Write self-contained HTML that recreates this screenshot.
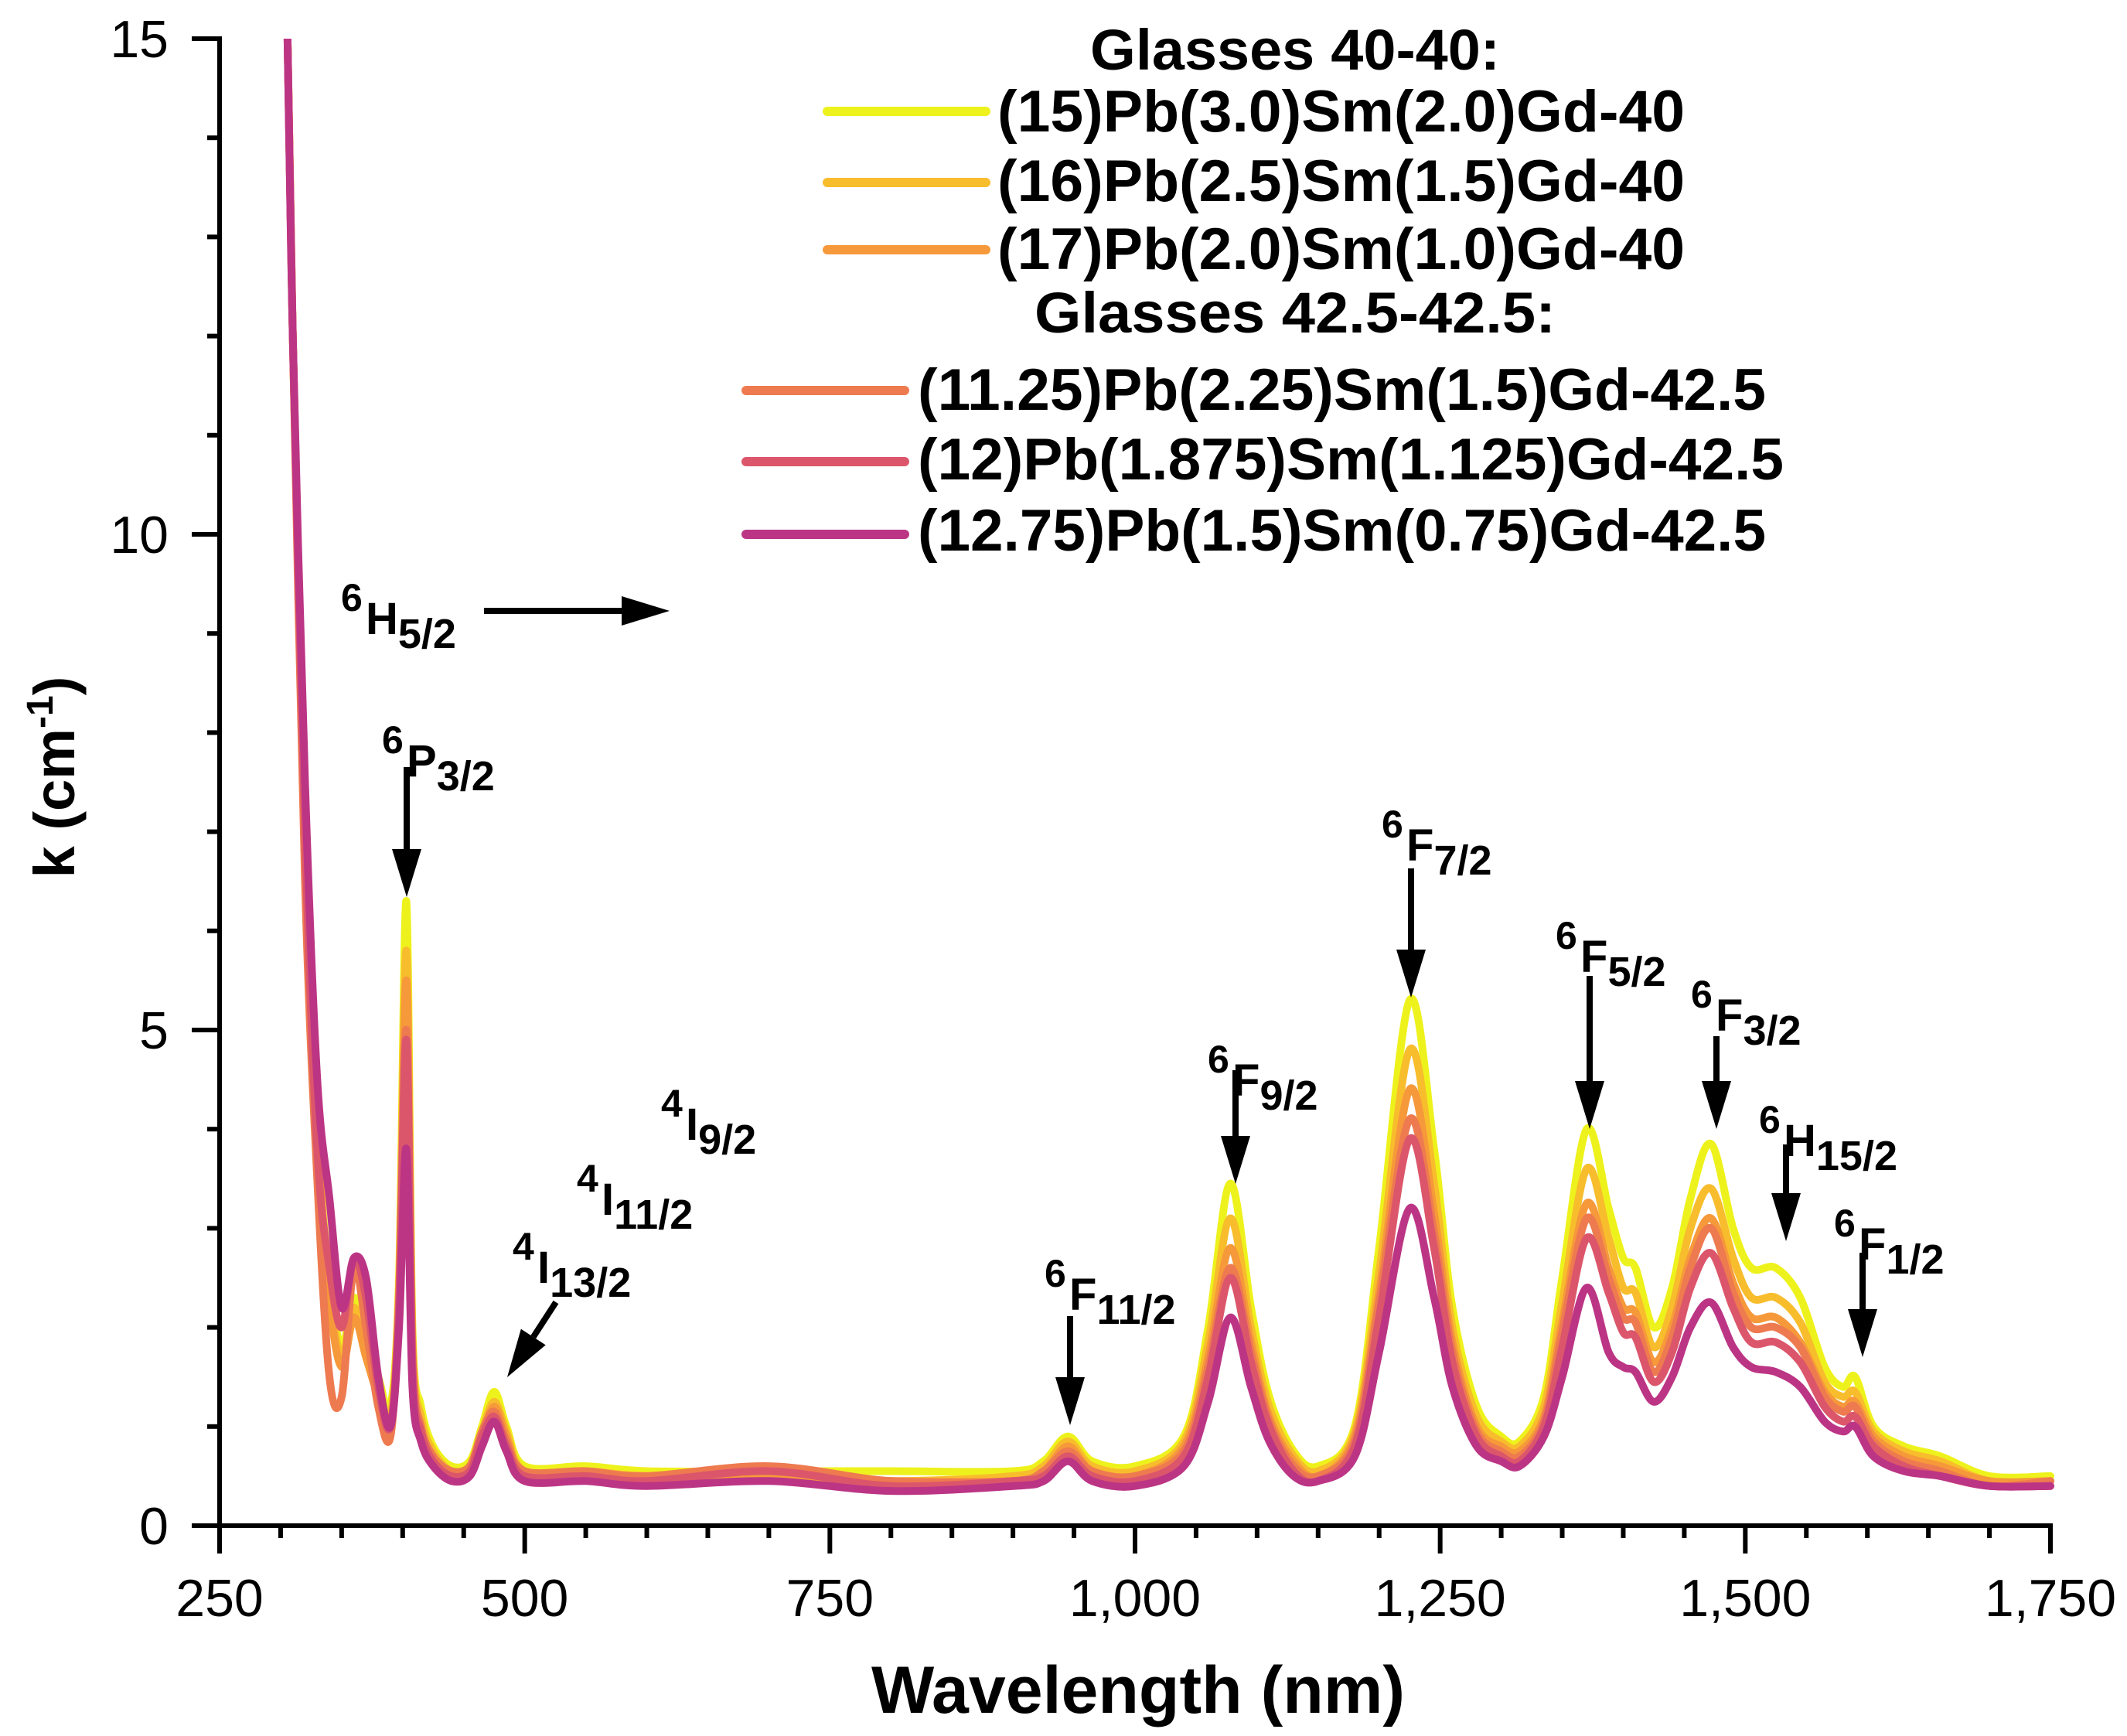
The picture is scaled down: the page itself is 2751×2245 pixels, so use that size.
<!DOCTYPE html>
<html><head><meta charset="utf-8"><style>
html,body{margin:0;padding:0;background:#fff}
svg{display:block}
text{font-family:"Liberation Sans",Arial,sans-serif}
</style></head><body>
<svg id="chart" width="2751" height="2245" viewBox="0 0 2751 2245" xmlns="http://www.w3.org/2000/svg">
<defs><clipPath id="plotclip"><rect x="284" y="50" width="2380" height="1923"/></clipPath></defs>
<g id="series" clip-path="url(#plotclip)"></g>
<g id="axes"></g>
<g id="legend"></g>
<g id="annot"></g>
</svg>
<script>
const wavelengths=[305,310,320,330,340,350,360,370,380,390,397,403,408,415,425,440,455,465,475,485,500,550,600,700,800,900,925,945,965,1000,1040,1060,1078,1095,1110,1130,1150,1180,1200,1225,1245,1260,1280,1300,1315,1335,1350,1370,1388,1400,1410,1425,1440,1455,1472,1490,1505,1525,1545,1565,1580,1590,1605,1630,1660,1700,1750];
const s15=[15.5,12,7,4,2.5,1.8,2.3,1.9,1.5,1.2,2.5,6.3,2.0,1.2,0.8,0.6,0.65,1.0,1.35,1.0,0.6,0.6,0.55,0.55,0.55,0.55,0.65,0.9,0.65,0.6,0.9,2.0,3.45,2.2,1.3,0.75,0.6,1.0,2.8,5.3,3.8,2.2,1.2,0.9,0.85,1.3,2.5,4.0,3.2,2.7,2.6,2.0,2.4,3.3,3.85,3.0,2.6,2.6,2.3,1.6,1.4,1.5,1.0,0.8,0.7,0.5,0.5];
const s16=[15.5,12,7,4,2.4,1.7,2.2,1.8,1.4,1.1,2.4,5.8,1.9,1.1,0.75,0.55,0.6,0.95,1.25,0.95,0.55,0.55,0.5,0.5,0.45,0.5,0.6,0.85,0.6,0.55,0.85,1.85,3.1,2.0,1.2,0.7,0.55,0.95,2.55,4.8,3.45,2.0,1.1,0.85,0.8,1.2,2.25,3.6,2.9,2.4,2.35,1.8,2.2,3.0,3.4,2.7,2.3,2.3,2.05,1.45,1.3,1.35,0.95,0.75,0.65,0.45,0.45];
const s17=[15.5,12,7,4,2.3,1.6,2.1,1.7,1.3,1.0,2.3,5.5,1.8,1.0,0.7,0.5,0.55,0.9,1.2,0.9,0.5,0.5,0.5,0.5,0.45,0.45,0.55,0.8,0.55,0.5,0.8,1.7,2.8,1.85,1.1,0.65,0.5,0.9,2.35,4.4,3.15,1.85,1.0,0.8,0.75,1.1,2.05,3.25,2.6,2.2,2.15,1.65,2.0,2.7,3.1,2.45,2.1,2.1,1.85,1.35,1.2,1.25,0.9,0.7,0.6,0.45,0.45];
const s1125=[15.5,12,6.5,3.5,1.5,1.3,2.6,2.0,1.2,0.9,2.3,5.0,1.7,1.0,0.7,0.55,0.6,0.95,1.15,0.85,0.55,0.55,0.5,0.6,0.45,0.45,0.55,0.75,0.55,0.5,0.75,1.6,2.6,1.75,1.05,0.6,0.5,0.85,2.25,4.1,2.95,1.75,0.95,0.75,0.7,1.05,1.95,3.1,2.5,2.1,2.05,1.55,1.9,2.6,3.0,2.35,2.0,2.0,1.8,1.3,1.15,1.2,0.85,0.65,0.55,0.4,0.45];
const s12=[15.5,12,7,3.8,2.6,2.0,2.7,2.3,1.4,1.0,2.2,4.9,1.6,0.95,0.65,0.5,0.55,0.9,1.1,0.8,0.5,0.5,0.45,0.55,0.4,0.45,0.5,0.7,0.5,0.45,0.7,1.5,2.5,1.65,1.0,0.55,0.45,0.8,2.1,3.9,2.8,1.65,0.9,0.7,0.65,1.0,1.8,2.9,2.35,1.95,1.9,1.45,1.75,2.4,2.75,2.2,1.85,1.85,1.65,1.2,1.05,1.1,0.8,0.6,0.5,0.4,0.4];
const s1275=[15.5,12,7.5,4.5,3.3,2.2,2.7,2.5,1.5,1.0,2.0,3.8,1.4,0.85,0.6,0.45,0.5,0.8,1.05,0.75,0.45,0.45,0.4,0.45,0.35,0.4,0.45,0.65,0.45,0.4,0.6,1.25,2.1,1.4,0.85,0.5,0.45,0.7,1.75,3.2,2.3,1.4,0.8,0.65,0.6,0.9,1.5,2.4,1.75,1.6,1.55,1.25,1.5,2.0,2.25,1.8,1.6,1.55,1.4,1.05,0.95,1.0,0.7,0.55,0.5,0.4,0.4];
const seriesNames=["(15)Pb(3.0)Sm(2.0)Gd-40","(16)Pb(2.5)Sm(1.5)Gd-40","(17)Pb(2.0)Sm(1.0)Gd-40","(11.25)Pb(2.25)Sm(1.5)Gd-42.5","(12)Pb(1.875)Sm(1.125)Gd-42.5","(12.75)Pb(1.5)Sm(0.75)Gd-42.5"];
const seriesColors=["#eef21c","#f8bd2c","#f6993a","#ee7a50","#dc566b","#bc3585"];
const xTicks=[250,500,750,1000,1250,1500,1750];
const xTickLabels=["250","500","750","1,000","1,250","1,500","1,750"];
const yTicks=[0,5,10,15];
const allSeries=[s15,s16,s17,s1125,s12,s1275];

const NS="http://www.w3.org/2000/svg";
const X0=284,X1=2652,Y0=1973,Y1=50;
function xs(v){return X0+(v-250)/1500*(X1-X0);}
function ys(v){return Y0-v/15*(Y0-Y1);}
function mk(tag,attrs,parent){const e=document.createElementNS(NS,tag);for(const k in attrs)e.setAttribute(k,attrs[k]);parent.appendChild(e);return e;}
function smooth(pts){let d="M"+pts[0][0].toFixed(1)+","+pts[0][1].toFixed(1);
 for(let i=0;i<pts.length-1;i++){const p0=pts[Math.max(0,i-1)],p1=pts[i],p2=pts[i+1],p3=pts[Math.min(pts.length-1,i+2)];
  const c1x=p1[0]+(p2[0]-p0[0])/6,c1y=p1[1]+(p2[1]-p0[1])/6,c2x=p2[0]-(p3[0]-p1[0])/6,c2y=p2[1]-(p3[1]-p1[1])/6;
  d+=" C"+c1x.toFixed(1)+","+c1y.toFixed(1)+" "+c2x.toFixed(1)+","+c2y.toFixed(1)+" "+p2[0].toFixed(1)+","+p2[1].toFixed(1);}
 return d;}

const sg=document.getElementById("series");
for(let s=0;s<allSeries.length;s++){
 const pts=wavelengths.map((w,i)=>[xs(w),ys(allSeries[s][i])]);
 const p=mk("path",{d:smooth(pts),fill:"none",stroke:seriesColors[s],"stroke-width":"10","stroke-linejoin":"round","stroke-linecap":"round"},sg);
 
 
}

const ax=document.getElementById("axes");
let l=mk("line",{x1:X0,y1:Y0,x2:X1+3,y2:Y0,stroke:"#000","stroke-width":"6"},ax);


l=mk("line",{x1:X0,y1:Y1-3,x2:X0,y2:Y0+3,stroke:"#000","stroke-width":"6"},ax);


for(let v=250;v<=1750;v+=50){const major=(v%250===0);
 const t=mk("line",{x1:xs(v),y1:Y0,x2:xs(v),y2:Y0+(major?36:16),stroke:"#000","stroke-width":"6"},ax);
 
 }
for(let v=0;v<=15;v+=1){const major=(v%5===0);
 const t=mk("line",{x1:X0,y1:ys(v),x2:X0-(major?36:16),y2:ys(v),stroke:"#000","stroke-width":"6"},ax);
 
 }
xTicks.forEach((v,i)=>{const t=mk("text",{x:xs(v),y:2090,"font-size":"68","text-anchor":"middle"},ax);t.textContent=xTickLabels[i];
 
 });
yTicks.forEach(v=>{const t=mk("text",{x:218,y:ys(v)+24,"font-size":"68","text-anchor":"end"},ax);t.textContent=String(v);
 
 });
let xt=mk("text",{x:1472,y:2215,"font-size":"86","font-weight":"bold","text-anchor":"middle",textLength:"690",lengthAdjust:"spacingAndGlyphs"},ax);
xt.textContent="Wavelength (nm)";


let yt=mk("text",{x:0,y:0,"font-size":"74","font-weight":"bold","text-anchor":"middle",transform:"translate(96,1005) rotate(-90)"},ax);
yt.innerHTML='k (cm<tspan dy="-28" font-size="48">-1</tspan><tspan dy="28">)</tspan>';



const lg=document.getElementById("legend");
const headers=[["Glasses 40-40:",1675,90,530],["Glasses 42.5-42.5:",1675,430,674]];
headers.forEach(h=>{const t=mk("text",{x:h[1],y:h[2],"font-size":"74","font-weight":"bold","text-anchor":"middle",textLength:h[3],lengthAdjust:"spacingAndGlyphs"},lg);t.textContent=h[0];
 
 });
const legRows=[[1070,1275,144,1290,170,889],[1070,1275,236,1290,260,889],[1070,1275,323,1290,348,889],[965,1170,505,1187,530,1097],[965,1170,597,1187,620,1120],[965,1170,691,1187,712,1097]];
legRows.forEach((r,i)=>{const g=mk("g",{},lg);
 
 
 mk("line",{x1:r[0],y1:r[2],x2:r[1],y2:r[2],stroke:seriesColors[i],"stroke-width":"12","stroke-linecap":"round"},g);
 const t=mk("text",{x:r[3],y:r[4],"font-size":"76","font-weight":"bold",textLength:r[5],lengthAdjust:"spacingAndGlyphs"},g);t.textContent=seriesNames[i];});

const an=document.getElementById("annot");
const labels=[["6","H","5/2",441,790],["6","P","3/2",494,974],["4","I","9/2",855,1444],["4","I","11/2",746,1541],["4","I","13/2",663,1629],["6","F","11/2",1351,1664],["6","F","9/2",1562,1387],["6","F","7/2",1787,1083],["6","F","5/2",2012,1227],["6","F","3/2",2187,1303],["6","H","15/2",2275,1465],["6","F","1/2",2372,1599]];
labels.forEach(L=>{const t=mk("text",{x:L[3],y:L[4],"font-size":"50","font-weight":"bold"},an);
 t.innerHTML=L[0]+'<tspan x="'+(L[3]+32)+'" dy="30" font-size="58">'+L[1]+'</tspan><tspan dy="18" font-size="54">'+L[2]+'</tspan>';
 
 });
const arrows=[[626,790,866,790],[526,992,526,1160],[719,1684,656,1781],[1384,1702,1384,1843],[1598,1384,1598,1531],[1825,1123,1825,1290],[2056,1262,2056,1460],[2220,1340,2220,1460],[2310,1480,2310,1605],[2409,1620,2409,1755]];
arrows.forEach(a=>{const g=mk("g",{},an);
 
 
 const dx=a[2]-a[0],dy=a[3]-a[1],len=Math.hypot(dx,dy),ux=dx/len,uy=dy/len,hl=62,hw=19;
 const bx=a[2]-ux*hl,by=a[3]-uy*hl;
 mk("line",{x1:a[0],y1:a[1],x2:bx,y2:by,stroke:"#000","stroke-width":"8"},g);
 mk("polygon",{points:a[2]+","+a[3]+" "+(bx-uy*hw)+","+(by+ux*hw)+" "+(bx+uy*hw)+","+(by-ux*hw),fill:"#000"},g);});
</script>
</body></html>
